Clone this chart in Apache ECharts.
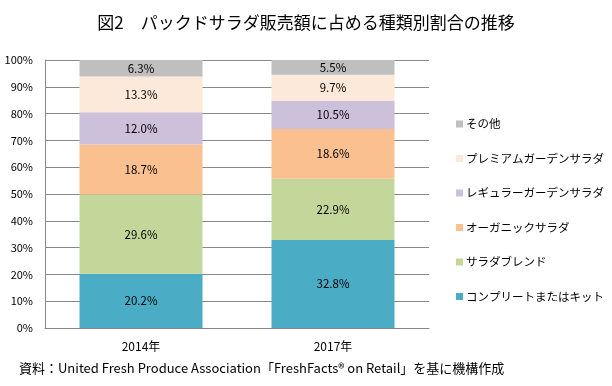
<!DOCTYPE html>
<html>
<head>
<meta charset="utf-8">
<script src="https://cdn.jsdelivr.net/npm/echarts@6/dist/echarts.min.js"></script>
<style>
html,body{margin:0;padding:0;background:#fff;}
#chart{width:612px;height:386px;}
</style>
</head>
<body>
<div id="chart"></div>
<script>
const categories = ['2014年', '2017年'];
const seriesNames = ['コンプリートまたはキット', 'サラダブレンド', 'オーガニックサラダ', 'レギュラーガーデンサラダ', 'プレミアムガーデンサラダ', 'その他'];
const completeKit = [20.2, 32.8];
const saladBlend = [29.6, 22.9];
const organic = [18.7, 18.6];
const regularGarden = [12.0, 10.5];
const premiumGarden = [13.3, 9.7];
const others = [6.3, 5.5];
const yTicks = [0, 10, 20, 30, 40, 50, 60, 70, 80, 90, 100];

const values = [completeKit, saladBlend, organic, regularGarden, premiumGarden, others];
const colors = ['#4BACC6', '#C4D79B', '#FAC090', '#CCC0DA', '#FDE9D9', '#BFBFBF'];
const FONT = '"Noto Sans CJK JP", "Noto Sans", sans-serif';

const chart = echarts.init(document.getElementById('chart'));
chart.setOption({
  animation: false,
  textStyle: { fontFamily: FONT },
  title: {
    text: '図2\u3000パックドサラダ販売額に占める種類別割合の推移',
    left: 'center',
    top: 9,
    textStyle: { fontFamily: FONT, fontSize: 17, fontWeight: 'normal', color: '#000' }
  },
  graphic: [{
    type: 'text',
    left: 19,
    top: 362,
    style: {
      text: '資料：United Fresh Produce Association「FreshFacts® on Retail」を基に機構作成',
      font: '13px ' + FONT,
      fill: '#000'
    }
  }],
  legend: {
    orient: 'vertical',
    left: 451,
    top: 112,
    itemWidth: 7,
    itemHeight: 7,
    itemGap: 20.5,
    icon: 'rect',
    data: seriesNames.slice().reverse(),
    textStyle: { fontFamily: FONT, fontSize: 11.5, lineHeight: 14, color: '#000', padding: [0, 0, 0, -2] }
  },
  grid: { left: 45, top: 60, right: 183, bottom: 58, containLabel: false },
  xAxis: {
    type: 'category',
    data: categories,
    axisLine: { lineStyle: { color: '#888', width: 1 } },
    axisTick: { show: false },
    axisLabel: { fontFamily: FONT, fontSize: 12, color: '#000', margin: 12 }
  },
  yAxis: {
    type: 'value',
    min: 0, max: 100, interval: 10,
    axisLine: { show: true, lineStyle: { color: '#888', width: 1 } },
    axisTick: { show: false },
    splitLine: { lineStyle: { color: '#888', width: 1 } },
    axisLabel: {
      fontFamily: FONT, fontSize: 11, color: '#000', margin: 12,
      formatter: v => yTicks.includes(v) ? v + '%' : ''
    }
  },
  series: values.map((d, i) => ({
    name: seriesNames[i],
    type: 'bar',
    stack: 'total',
    data: d,
    barWidth: 123,
    itemStyle: { color: colors[i] },
    label: {
      show: true,
      position: 'inside',
      fontFamily: FONT,
      fontSize: 11.5,
      color: '#000',
      formatter: p => p.value.toFixed(1) + '%'
    }
  }))
});
</script>
</body>
</html>
